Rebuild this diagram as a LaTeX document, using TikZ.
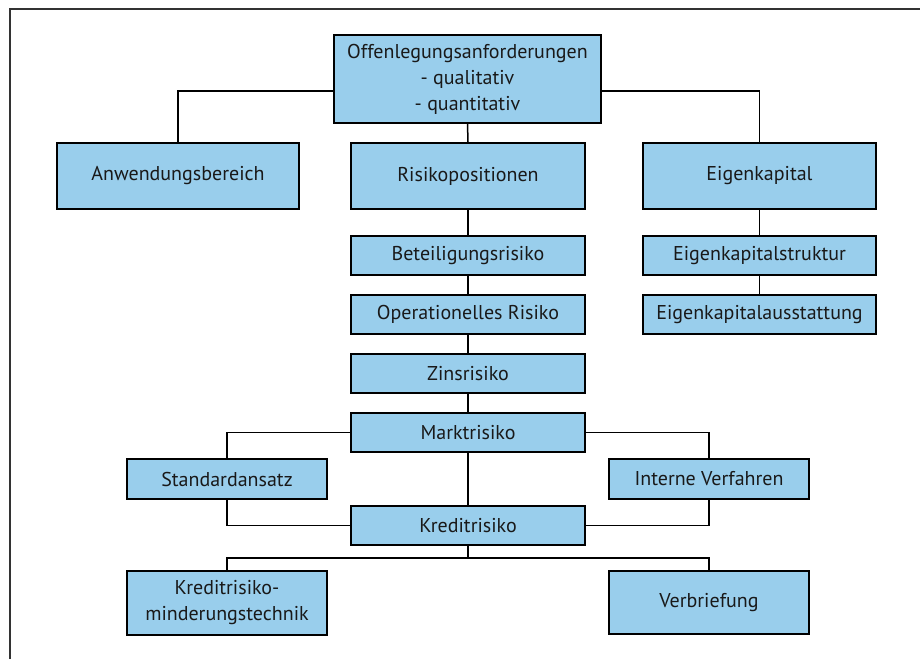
\documentclass[tikz,border=0pt]{standalone}
\usepackage{fontspec}
\setmainfont{PT Sans}
\usepackage{tikz}
\usetikzlibrary{calc}

\definecolor{boxblue}{RGB}{153,206,236}
\definecolor{textdark}{RGB}{25,25,25}

\tikzset{
  box/.style={draw=black,line width=1.5pt,fill=boxblue,text=textdark,
    inner sep=2pt,align=center,font=\fontsize{20}{26}\selectfont},
  link/.style={draw=black,line width=1.5pt}
}

\begin{document}
\begin{tikzpicture}[x=1pt,y=-1pt]
  \useasboundingbox (0,0) rectangle (920,659);
  % frame
  \draw[line width=2pt,black!80] (10,659) -- (10,9) -- (920,9);

  % top
  \node[box,minimum width=267pt,minimum height=88pt] (top) at (467.5,79)
    {Offenlegungsanforderungen\\- qualitativ\\- quantitativ};

  % first level
  \node[box,minimum width=242pt,minimum height=66pt] (anw) at (178,176) {Anwendungsbereich};
  \node[box,minimum width=234pt,minimum height=66pt] (risiko) at (468,176) {Risikopositionen};
  \node[box,minimum width=233pt,minimum height=66pt] (eigen) at (759.5,176) {Eigenkapital};

  % risk column
  \node[box,minimum width=234pt,minimum height=39pt] (beteil) at (468,255.5) {Beteiligungsrisiko};
  \node[box,minimum width=234pt,minimum height=39pt] (oprisk) at (468,314.5) {Operationelles Risiko};
  \node[box,minimum width=234pt,minimum height=39pt] (zins) at (468,373.5) {Zinsrisiko};
  \node[box,minimum width=234pt,minimum height=39pt] (markt) at (468,432.5) {Marktrisiko};
  \node[box,minimum width=234pt,minimum height=39pt] (kredit) at (468,525.5) {Kreditrisiko};

  % equity column
  \node[box,minimum width=233pt,minimum height=39pt] (ekstruktur) at (759.5,255.5) {Eigenkapitalstruktur};
  \node[box,minimum width=233pt,minimum height=39pt] (ekausst) at (759.5,314.5) {Eigenkapitalausstattung};

  % side boxes
  \node[box,minimum width=200pt,minimum height=40pt] (standard) at (227,479) {Standardansatz};
  \node[box,minimum width=200pt,minimum height=40pt] (intern) at (709,479) {Interne Verfahren};
  \node[box,minimum width=200pt,minimum height=64pt] (krm) at (227,603) {Kreditrisiko-\\minderungstechnik};
  \node[box,minimum width=200pt,minimum height=63pt] (verbr) at (709,602.5) {Verbriefung};

  \coordinate (split) at (468,558);

  % connectors
  \draw[link] ([yshift=-12pt]top.west) -| (anw.north);
  \draw[link] ([yshift=-12pt]top.east) -| (eigen.north);
  \draw[link] (top.south) -- (risiko.north);
  \draw[link] (risiko.south) -- (beteil.north);
  \draw[link] (beteil.south) -- (oprisk.north);
  \draw[link] (oprisk.south) -- (zins.north);
  \draw[link] (zins.south) -- (markt.north);
  \draw[link] (markt.south) -- (kredit.north);
  \draw[link] (eigen.south) -- (ekstruktur.north);
  \draw[link] (ekstruktur.south) -- (ekausst.north);
  \draw[link] (markt.west) -| (standard.north);
  \draw[link] (markt.east) -| (intern.north);
  \draw[link] (standard.south) |- (kredit.west);
  \draw[link] (intern.south) |- (kredit.east);
  \draw[link] (kredit.south) -- (split);
  \draw[link] (split) -| (krm.north);
  \draw[link] (split) -| (verbr.north);
\end{tikzpicture}
\end{document}
